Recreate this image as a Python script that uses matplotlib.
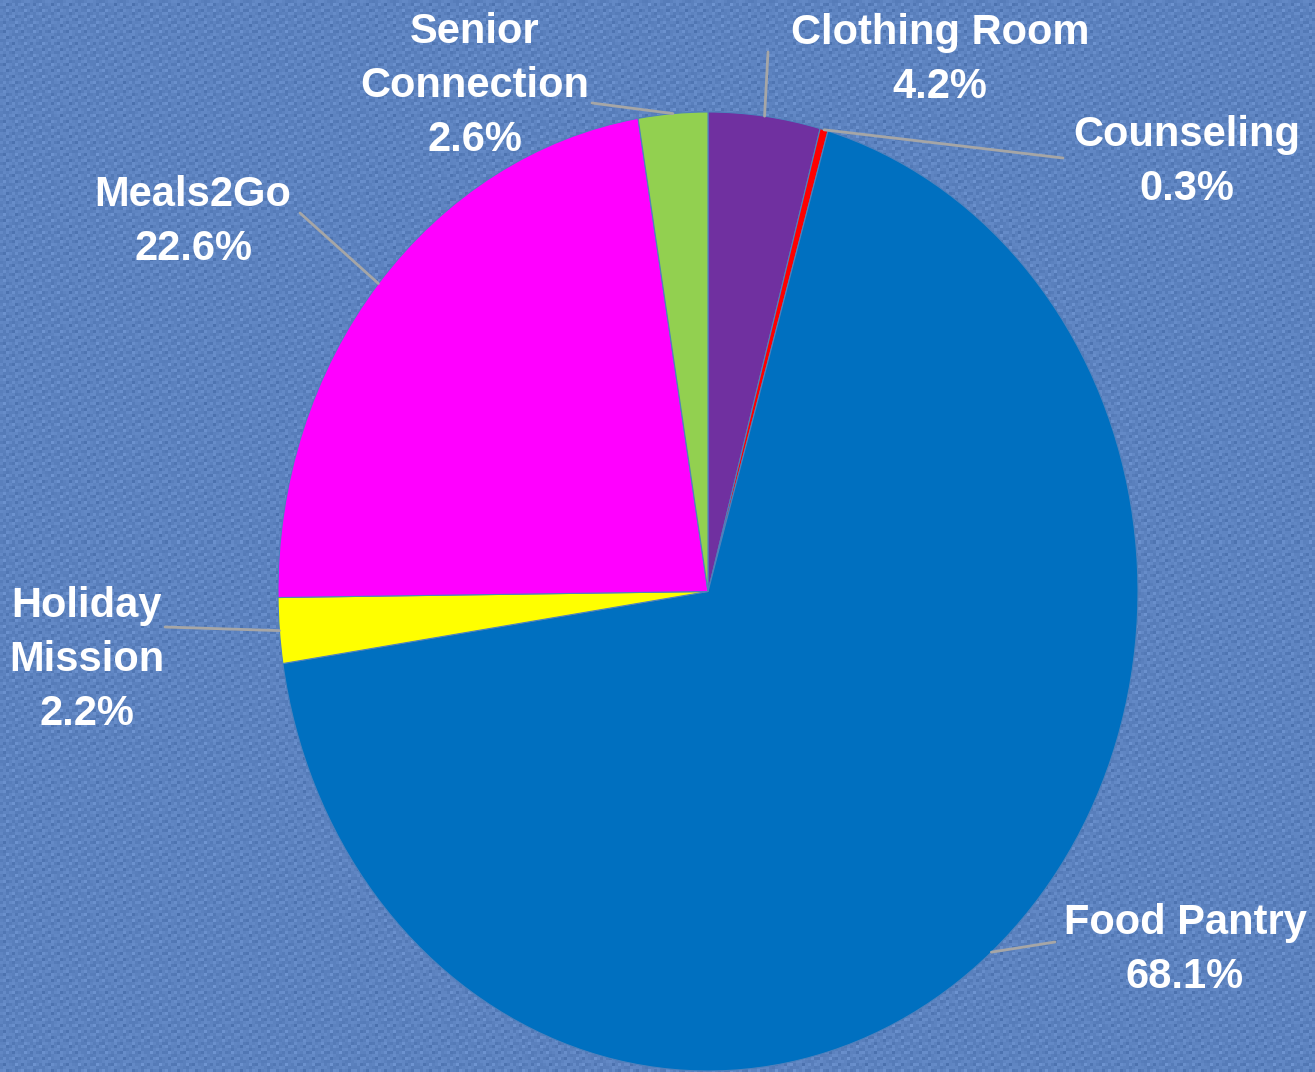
import numpy as np
import matplotlib
matplotlib.use("Agg")
from matplotlib import pyplot as plt

# data
programs = ["Clothing Room", "Counseling", "Food Pantry", "Holiday\nMission", "Meals2Go", "Senior\nConnection"]
shares = [4.2, 0.3, 68.1, 2.2, 22.6, 2.6]
colors = ["#7030a0", "#ff0000", "#0070c0", "#ffff00", "#ff00ff", "#92d050"]

# label centres in figure pixels (from top-left)
label_pos = [(940, 60), (1187, 162), (1185, 950), (87, 660), (193, 222), (475, 86)]
line_start = [(768, 52), (1063, 158), (1055, 942), (165, 627), (300, 213), (592, 103)]

W, H = 1315, 1072
fig = plt.figure(figsize=(W / 100, H / 100), dpi=100)

# denim-ish background
bg = fig.add_axes([0, 0, 1, 1], zorder=0)
yy, xx = np.mgrid[0:H // 3, 0:W // 3]
weave = 0.5 * np.sin(xx * 2.1) * np.sin(yy * 1.7) + 0.3 * np.sin(xx * 0.9 + yy * 2.3)
base = np.array([0x5d, 0x83, 0xc0]) / 255
img = np.clip(base[None, None, :] + 0.09 * weave[..., None], 0, 1)
bg.imshow(img, aspect="auto", interpolation="nearest")
bg.axis("off")

# pie bounding box in pixels: x 278..1138, y 112..1071
x0, x1, y0, y1 = 278, 1138, 112, 1071
ax = fig.add_axes([x0 / W, (H - y1) / H, (x1 - x0) / W, (y1 - y0) / H], zorder=1)
wedges, _ = ax.pie(shares, colors=colors, startangle=90, counterclock=False,
                   wedgeprops=dict(edgecolor="#4f81bd", linewidth=0.8))
ax.set_xlim(-1, 1)
ax.set_ylim(-1, 1)
ax.set_aspect("auto")
ax.axis("off")

for w, name, val, (tx, ty), (lx, ly) in zip(wedges, programs, shares, label_pos, line_start):
    mid = np.deg2rad((w.theta1 + w.theta2) / 2)
    ax.annotate("", xy=(np.cos(mid), np.sin(mid)), xycoords="data",
                xytext=(lx / W, 1 - ly / H), textcoords="figure fraction",
                arrowprops=dict(arrowstyle="-", color="#a6a6a6", lw=2,
                                shrinkA=0, shrinkB=0))
    fig.text(tx / W, 1 - ty / H, f"{name}\n{val:.1f}%", ha="center", va="center",
             color="white", fontsize=30, fontweight="bold",
             family="Liberation Sans", linespacing=1.45, zorder=3)

fig.savefig("out.png", dpi=100)
